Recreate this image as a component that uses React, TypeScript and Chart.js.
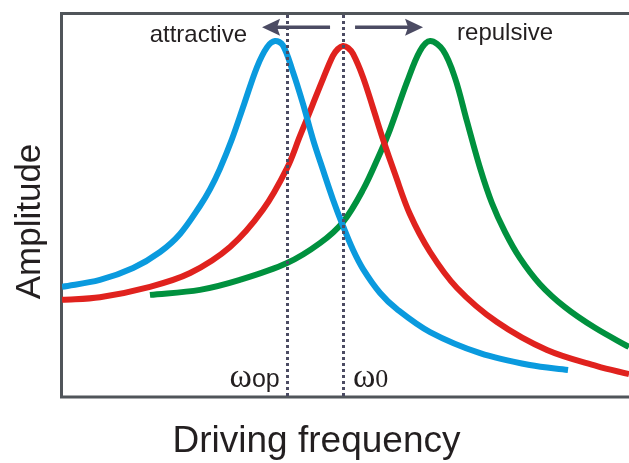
import { useEffect, useRef } from 'react';
import { Chart, registerables } from 'chart.js';

Chart.register(...registerables);

// ---- data (normalised driving frequency, amplitude) ----
const blueFreq = [0, 0.135, 0.253, 0.349, 0.42, 0.491, 0.527, 0.562, 0.605, 0.648, 0.694, 0.73, 0.758, 0.786, 0.822, 0.858, 0.893, 0.929, 0.964, 1.0, 1.036, 1.071, 1.132, 1.192, 1.31, 1.488, 1.665, 1.801];
const blueAmp = [2.85, 3.03, 3.34, 3.76, 4.23, 4.96, 5.4, 5.93, 6.71, 7.62, 8.59, 9.11, 9.27, 9.16, 8.46, 7.62, 6.71, 5.9, 5.14, 4.44, 3.81, 3.32, 2.69, 2.27, 1.67, 1.12, 0.81, 0.68];

const redFreq = [0, 0.135, 0.313, 0.456, 0.598, 0.715, 0.801, 0.847, 0.89, 0.929, 0.964, 0.982, 1.0, 1.018, 1.036, 1.071, 1.107, 1.142, 1.185, 1.238, 1.31, 1.406, 1.548, 1.726, 1.904, 2.018];
const redAmp = [2.51, 2.58, 2.85, 3.21, 3.89, 4.86, 5.95, 6.79, 7.57, 8.28, 8.88, 9.06, 9.14, 9.09, 8.93, 8.33, 7.52, 6.71, 5.8, 4.75, 3.76, 2.82, 1.93, 1.2, 0.78, 0.57];

const greenFreq = [0.313, 0.491, 0.633, 0.801, 0.918, 1.0, 1.071, 1.132, 1.167, 1.228, 1.274, 1.31, 1.356, 1.399, 1.441, 1.488, 1.53, 1.577, 1.63, 1.701, 1.79, 1.897, 2.018];
const greenAmp = [2.64, 2.77, 3.03, 3.47, 3.99, 4.54, 5.38, 6.34, 6.95, 8.2, 9.01, 9.27, 9.03, 8.3, 7.18, 5.95, 5.04, 4.28, 3.6, 2.92, 2.32, 1.78, 1.28];

const markerFreqs = [0.8, 1.0];
const markerSymbols = ['ω', 'ω'];
const markerSuffixes = ['op', '0'];

const directionLabels = ['attractive', 'repulsive'];
const arrowAmp = 9.63;
const leftArrow = [0.954, 0.712]; // tail, tip
const rightArrow = [1.043, 1.285]; // tail, tip

const xTitle = 'Driving frequency';
const yTitle = 'Amplitude';

const xMin = 0;
const xMax = 2.018;
const yMin = 0;
const yMax = 10;

const toPoints = (xs: number[], ys: number[]) => xs.map((x, i) => ({ x, y: ys[i] }));

const SANS = '"Liberation Sans", Arial, sans-serif';
const SERIF = '"Liberation Serif", "Times New Roman", serif';
const INK = '#4b4b63';

const decorPlugin = {
  id: 'decor',
  beforeDatasetsDraw(chart: any) {
    const { ctx, chartArea } = chart;
    ctx.save();
    ctx.strokeStyle = '#50555a';
    ctx.lineWidth = 3;
    ctx.beginPath();
    ctx.moveTo(chart.width, chartArea.top + 0.5);
    ctx.lineTo(chartArea.left - 0.5, chartArea.top + 0.5);
    ctx.lineTo(chartArea.left - 0.5, chartArea.bottom + 1);
    ctx.lineTo(chart.width, chartArea.bottom + 1);
    ctx.stroke();
    ctx.restore();
  },
  afterDatasetsDraw(chart: any) {
    const { ctx, chartArea, scales } = chart;
    const xs = scales.x;
    const ys = scales.y;
    ctx.save();

    // dotted marker lines
    ctx.strokeStyle = INK;
    ctx.lineWidth = 3;
    ctx.setLineDash([3, 3]);
    markerFreqs.forEach((f) => {
      const px = Math.round(xs.getPixelForValue(f)) + 0.5;
      ctx.beginPath();
      ctx.moveTo(px, chartArea.top + 2);
      ctx.lineTo(px, chartArea.bottom);
      ctx.stroke();
    });
    ctx.setLineDash([]);

    // arrows
    const ay = ys.getPixelForValue(arrowAmp);
    const drawArrow = (tail: number, tip: number) => {
      const tx = xs.getPixelForValue(tail);
      const hx = xs.getPixelForValue(tip);
      const dir = Math.sign(hx - tx);
      const headLen = 18;
      const headHalf = 8.5;
      ctx.strokeStyle = INK;
      ctx.fillStyle = INK;
      ctx.lineWidth = 3.5;
      ctx.beginPath();
      ctx.moveTo(tx, ay);
      ctx.lineTo(hx - dir * (headLen - 4), ay);
      ctx.stroke();
      ctx.beginPath();
      ctx.moveTo(hx, ay);
      ctx.lineTo(hx - dir * headLen, ay - headHalf);
      ctx.lineTo(hx - dir * (headLen - 3), ay);
      ctx.lineTo(hx - dir * headLen, ay + headHalf);
      ctx.closePath();
      ctx.fill();
    };
    drawArrow(leftArrow[0], leftArrow[1]);
    drawArrow(rightArrow[0], rightArrow[1]);

    // direction labels
    ctx.fillStyle = '#231f20';
    ctx.font = `24px ${SANS}`;
    ctx.textBaseline = 'alphabetic';
    ctx.textAlign = 'right';
    ctx.fillText(directionLabels[0], xs.getPixelForValue(leftArrow[1]) - 15, ay + 15);
    ctx.textAlign = 'left';
    ctx.fillText(directionLabels[1], xs.getPixelForValue(rightArrow[1]) + 34, ay + 13);

    // marker labels
    const baseY = chartArea.bottom - 9;
    markerFreqs.forEach((f, i) => {
      const px = xs.getPixelForValue(f);
      const symFont = `34px ${SERIF}`;
      ctx.font = symFont;
      const wSym = ctx.measureText(markerSymbols[i]).width;
      const sufFont = i === 0 ? `25px ${SANS}` : `26px ${SERIF}`;
      ctx.font = sufFont;
      const wSuf = ctx.measureText(markerSuffixes[i]).width;
      const startX = i === 0 ? px - 7 - wSym - wSuf : px + 10;
      ctx.textAlign = 'left';
      ctx.font = symFont;
      ctx.fillText(markerSymbols[i], startX, baseY);
      ctx.font = sufFont;
      ctx.fillText(markerSuffixes[i], startX + wSym, baseY);
    });

    // axis titles
    ctx.font = `37px ${SANS}`;
    ctx.textAlign = 'center';
    ctx.fillText(xTitle, chart.width / 2 + 2, chart.height - 11);
    ctx.save();
    ctx.translate(40, (chartArea.top + chartArea.bottom) / 2 + 17);
    ctx.rotate(-Math.PI / 2);
    ctx.font = `35px ${SANS}`;
    ctx.fillText(yTitle, 0, 0);
    ctx.restore();

    ctx.restore();
  },
};

export default function App() {
  const canvasRef = useRef<HTMLCanvasElement | null>(null);

  useEffect(() => {
    if (!canvasRef.current) return;
    const lineStyle = {
      borderWidth: 6,
      pointRadius: 0,
      pointHoverRadius: 0,
      fill: false,
      tension: 0.35,
      borderCapStyle: 'butt' as const,
      borderJoinStyle: 'round' as const,
    };
    const chart = new Chart(canvasRef.current, {
      type: 'line',
      data: {
        datasets: [
          { label: 'attractive', data: toPoints(blueFreq, blueAmp), borderColor: '#0a9ade', ...lineStyle },
          { label: 'free', data: toPoints(redFreq, redAmp), borderColor: '#e0221e', ...lineStyle },
          { label: 'repulsive', data: toPoints(greenFreq, greenAmp), borderColor: '#00913e', ...lineStyle },
        ],
      },
      options: {
        responsive: false,
        animation: false,
        layout: { padding: { left: 62, top: 13, right: 0, bottom: 67 } },
        scales: {
          x: { type: 'linear', min: xMin, max: xMax, display: false },
          y: { type: 'linear', min: yMin, max: yMax, display: false },
        },
        plugins: {
          legend: { display: false },
          tooltip: { enabled: false },
        },
      },
      plugins: [decorPlugin],
    });
    return () => chart.destroy();
  }, []);

  return (
    <div style={{ position: 'fixed', left: 0, top: 0, width: 629, height: 463, background: '#fff' }}>
      <canvas ref={canvasRef} width={629} height={463} style={{ display: 'block' }} />
    </div>
  );
}
